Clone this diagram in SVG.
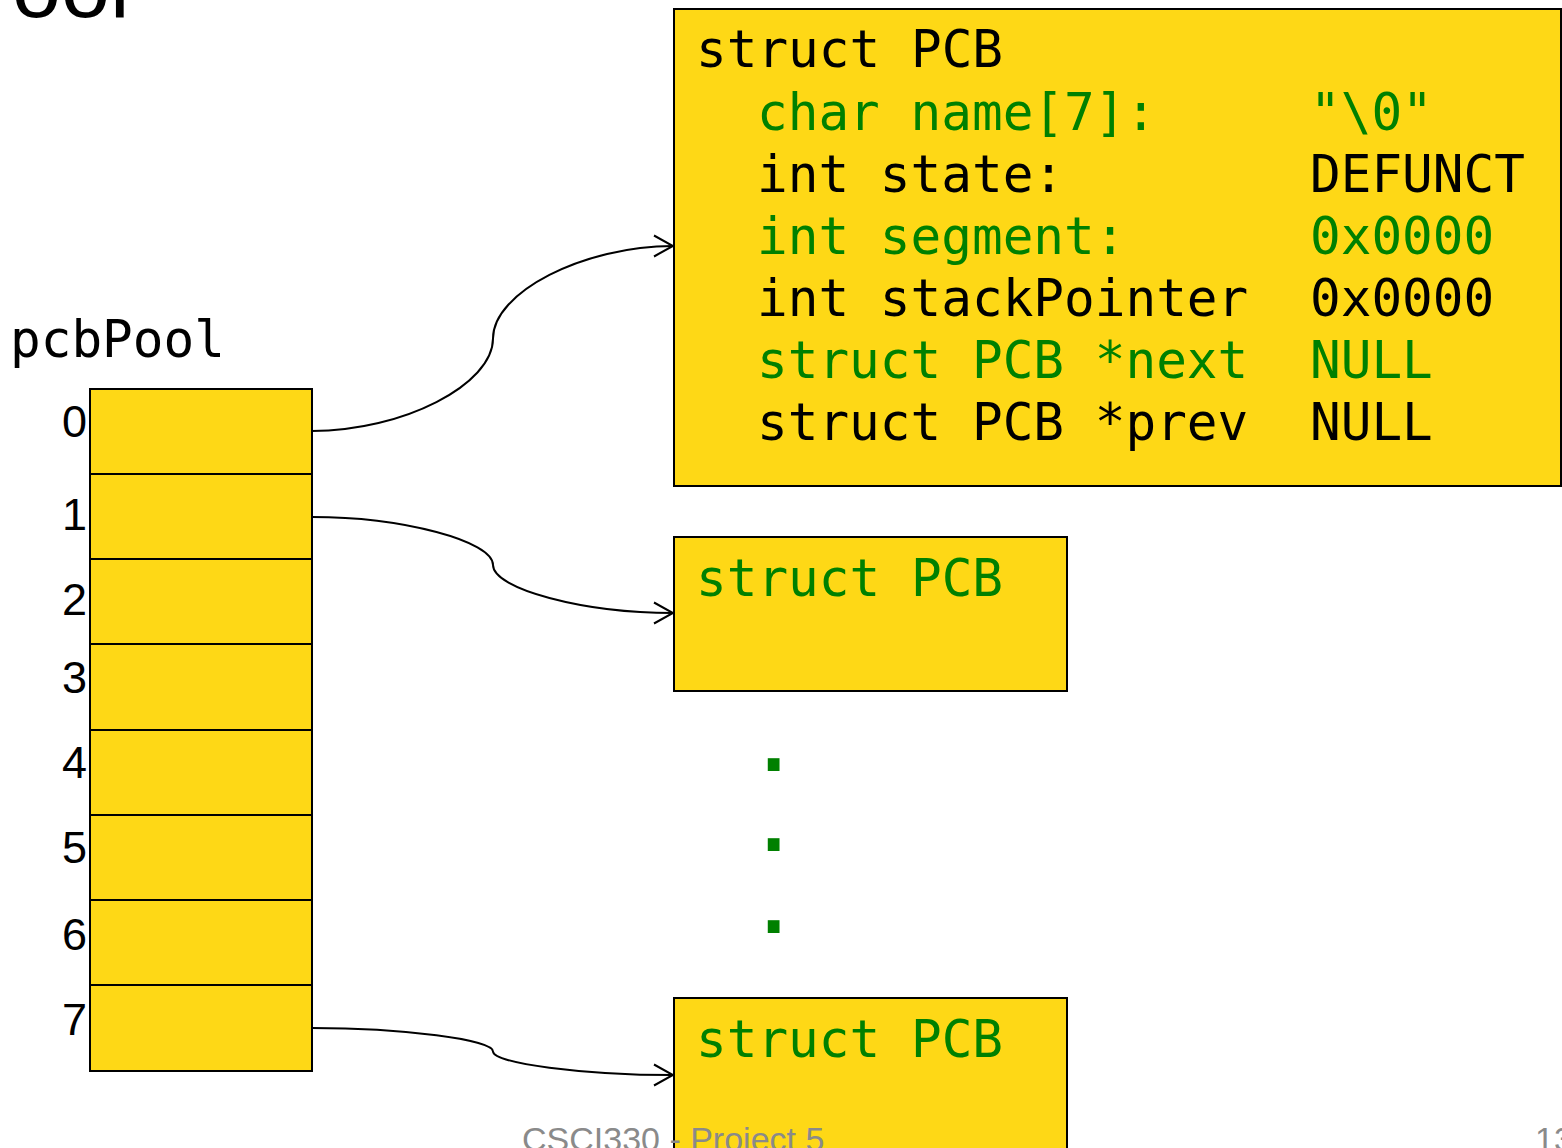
<svg xmlns="http://www.w3.org/2000/svg" width="1562" height="1148" viewBox="0 0 1562 1148">
  <style>
    .box { fill: #FED816; stroke: #000; stroke-width: 2; }
    .mono { font-family: "DejaVu Sans Mono", "Liberation Mono", monospace; font-size: 51px; }
    .blk { fill: #000; }
    .grn { fill: #008000; }
    .dot { font-family: "DejaVu Sans Mono", "Liberation Mono", monospace; font-size: 72px; font-weight: bold; fill: #008000; }
    .idx { font-family: "Liberation Sans", Arial, sans-serif; font-size: 45px; fill: #000; text-anchor: end; }
    .foot { font-family: "Liberation Sans", Arial, sans-serif; font-size: 34px; fill: #8A8A8A; }
    .wire { fill: none; stroke: #000; stroke-width: 2; }
  </style>
  <defs>
    <marker id="open-arrow" markerUnits="userSpaceOnUse" markerWidth="24" markerHeight="26" viewBox="0 0 24 26" refX="22" refY="13" orient="auto">
      <path d="M3,2.5 L22,13 L3,23.5" fill="none" stroke="#000" stroke-width="2"/>
    </marker>
  </defs>

  <rect width="1562" height="1148" fill="#fff"/>

  <!-- slide title, clipped by the top edge -->
  <text x="12" y="17" font-family="Liberation Sans, Arial, sans-serif" font-size="88" fill="#000">ool</text>

  <!-- pcbPool array -->
  <g id="pcbPool">
    <text class="mono blk" x="10" y="357">pcbPool</text>
    <rect class="box" x="90" y="389" width="222" height="682"/>
    <path d="M90,474 H312 M90,559 H312 M90,644 H312 M90,730 H312 M90,815 H312 M90,900 H312 M90,985 H312" stroke="#000" stroke-width="2"/>
    <text class="idx" x="87" y="437">0</text>
    <text class="idx" x="87" y="530">1</text>
    <text class="idx" x="87" y="615">2</text>
    <text class="idx" x="87" y="693">3</text>
    <text class="idx" x="87" y="778">4</text>
    <text class="idx" x="87" y="863">5</text>
    <text class="idx" x="87" y="950">6</text>
    <text class="idx" x="87" y="1035">7</text>
  </g>

  <!-- expanded PCB record -->
  <g id="pcb0">
    <rect class="box" x="674" y="9" width="887" height="477"/>
    <text class="mono blk" x="696" y="67">struct PCB</text>
    <text class="mono grn" x="757" y="130">char name[7]:</text>
    <text class="mono grn" x="1310" y="130">"\0"</text>
    <text class="mono blk" x="757" y="192">int state:</text>
    <text class="mono blk" x="1310" y="192">DEFUNCT</text>
    <text class="mono grn" x="757" y="254">int segment:</text>
    <text class="mono grn" x="1310" y="254">0x0000</text>
    <text class="mono blk" x="757" y="316">int stackPointer</text>
    <text class="mono blk" x="1310" y="316">0x0000</text>
    <text class="mono grn" x="757" y="378">struct PCB *next</text>
    <text class="mono grn" x="1310" y="378">NULL</text>
    <text class="mono blk" x="757" y="440">struct PCB *prev</text>
    <text class="mono blk" x="1310" y="440">NULL</text>
  </g>

  <g id="pcb1">
    <rect class="box" x="674" y="537" width="393" height="154"/>
    <text class="mono grn" x="696" y="596">struct PCB</text>
  </g>

  <g id="ellipsis">
    <text class="dot" x="752" y="771">.</text>
    <text class="dot" x="752" y="851">.</text>
    <text class="dot" x="752" y="933">.</text>
  </g>

  <g id="pcb7">
    <rect class="box" x="674" y="998" width="393" height="160"/>
    <text class="mono grn" x="696" y="1057">struct PCB</text>
  </g>

  <!-- pointers from array slots to records -->
  <g id="connectors">
    <path class="wire" marker-end="url(#open-arrow)" d="M312,431 C402.5,431 493,384.75 493,338.5 C493,292.25 583.5,246 673,246"/>
    <path class="wire" marker-end="url(#open-arrow)" d="M312,517 C402.5,517 493,541 493,565 C493,589 583.5,613 673,613"/>
    <path class="wire" marker-end="url(#open-arrow)" d="M312,1028 C402.5,1028 493,1039.75 493,1051.5 C493,1063.25 583.5,1075 673,1075"/>
  </g>

  <!-- footer -->
  <text class="foot" x="522" y="1151">CSCI330 - Project 5</text>
  <text class="foot" x="1535" y="1151">13</text>
</svg>
